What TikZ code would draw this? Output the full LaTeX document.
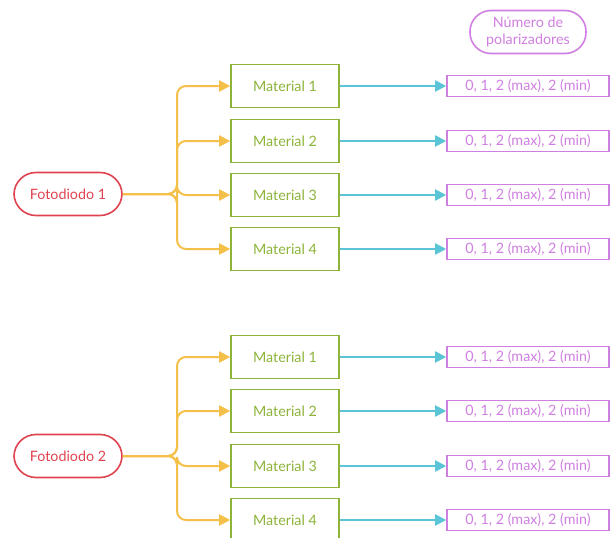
\documentclass[tikz,border=0pt]{standalone}
\usepackage{fontspec}
\setmainfont{Lato}
\usetikzlibrary{arrows.meta, positioning}

\definecolor{fdred}{HTML}{E0434F}
\definecolor{matgreen}{HTML}{8DB33A}
\definecolor{polpink}{HTML}{CF7FE0}
\definecolor{branchyel}{HTML}{F5C04A}
\definecolor{linkcyan}{HTML}{5BC4D6}

\begin{document}
\begin{tikzpicture}[x=1pt,y=-1pt,
        font=\fontsize{14.3}{16.5}\selectfont,
        fotodiodo/.style={shape=rectangle,rounded corners=22pt,draw=fdred,line width=1.6pt,text=fdred,minimum width=108pt,minimum height=43pt},
        material/.style={shape=rectangle,draw=matgreen,line width=1.6pt,text=matgreen,minimum width=108pt,minimum height=43pt},
        polar/.style={shape=rectangle,draw=polpink,line width=1.6pt,text=polpink,minimum width=162pt,minimum height=21pt,inner sep=1pt},
        branch/.style={draw=branchyel,line width=2pt,rounded corners=9pt,-{Triangle[width=11pt,length=11pt]}},
        link/.style={draw=linkcyan,line width=2pt,-{Triangle[width=11pt,length=11pt]}}]
        \useasboundingbox (0,0) rectangle (614,538);

        \node[shape=rectangle,rounded corners=21pt,draw=polpink,line width=1.6pt,text=polpink,align=center,minimum width=116pt,minimum height=43pt,inner sep=2pt] (hdr) at (528,32) {Número de\\polarizadores};

        \node[fotodiodo] (fd1) at (68,194) {Fotodiodo 1};
        \node[material] (m11) at (285,86) {Material 1};
        \node[material] (m12) at (285,141) {Material 2};
        \node[material] (m13) at (285,195) {Material 3};
        \node[material] (m14) at (285,249) {Material 4};
        \node[polar] (p11) at (528,86) {0, 1, 2 (max), 2 (min)};
        \node[polar] (p12) at (528,141) {0, 1, 2 (max), 2 (min)};
        \node[polar] (p13) at (528,195) {0, 1, 2 (max), 2 (min)};
        \node[polar] (p14) at (528,249) {0, 1, 2 (max), 2 (min)};
        \coordinate (j1) at (177,194);

        \node[fotodiodo] (fd2) at (68,456) {Fotodiodo 2};
        \node[material] (m21) at (285,357) {Material 1};
        \node[material] (m22) at (285,411) {Material 2};
        \node[material] (m23) at (285,466) {Material 3};
        \node[material] (m24) at (285,520) {Material 4};
        \node[polar] (p21) at (528,357) {0, 1, 2 (max), 2 (min)};
        \node[polar] (p22) at (528,411) {0, 1, 2 (max), 2 (min)};
        \node[polar] (p23) at (528,466) {0, 1, 2 (max), 2 (min)};
        \node[polar] (p24) at (528,520) {0, 1, 2 (max), 2 (min)};
        \coordinate (j2) at (177,456);

        % photodiode to materials
        \foreach \m in {m11,m12,m13,m14}
            \draw[branch] (fd1.east) -- (j1) |- (\m.west);
        \foreach \m in {m21,m22,m23,m24}
            \draw[branch] (fd2.east) -- (j2) |- (\m.west);

        % materials to polarizer counts
        \draw[link] (m11) -- (p11);
        \draw[link] (m12) -- (p12);
        \draw[link] (m13) -- (p13);
        \draw[link] (m14) -- (p14);
        \draw[link] (m21) -- (p21);
        \draw[link] (m22) -- (p22);
        \draw[link] (m23) -- (p23);
        \draw[link] (m24) -- (p24);

    \end{tikzpicture}
\end{document}
